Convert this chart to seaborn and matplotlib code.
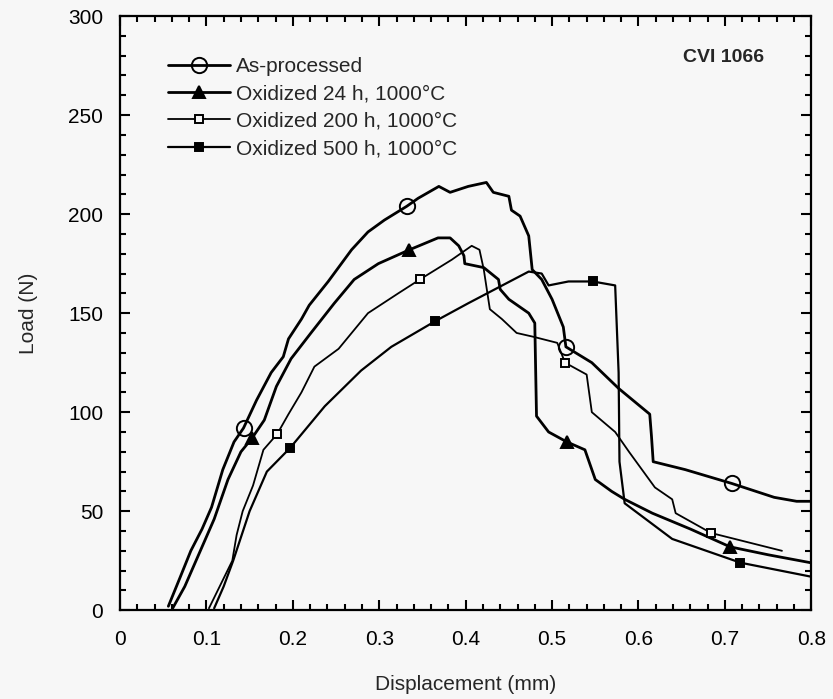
import numpy as np
import pandas as pd
import seaborn as sns
import matplotlib.pyplot as plt
from matplotlib.ticker import MultipleLocator, FuncFormatter

# --- valeurs (déplacement en mm, charge en N) ---
ap_x = [0.056, 0.070, 0.082, 0.095, 0.106, 0.119, 0.132, 0.143, 0.158, 0.175, 0.189, 0.195,
        0.210, 0.219, 0.241, 0.268, 0.287, 0.306, 0.332, 0.345, 0.369, 0.382, 0.403, 0.424,
        0.432, 0.450, 0.453, 0.463, 0.473, 0.477, 0.488, 0.500, 0.513, 0.516, 0.546, 0.577,
        0.613, 0.615, 0.617, 0.654, 0.708, 0.757, 0.783, 0.801]
ap_y = [2, 17, 30, 41, 52, 71, 85, 92, 106, 120, 128, 137,
        147, 154, 166, 182, 191, 197, 204, 208, 214, 211, 214, 216,
        211, 209, 202, 199, 189, 172, 167, 157, 143, 133, 125, 112,
        99, 88, 75, 71, 64, 57, 55, 55]
ap_marks = [0.143, 0.332, 0.516, 0.708]

h24_x = [0.061, 0.075, 0.086, 0.098, 0.109, 0.125, 0.140, 0.153, 0.167, 0.181, 0.198, 0.221,
         0.248, 0.271, 0.299, 0.335, 0.368, 0.382, 0.392, 0.398, 0.399, 0.421, 0.438, 0.440,
         0.450, 0.473, 0.480, 0.482, 0.496, 0.517, 0.538, 0.550, 0.569, 0.584, 0.616, 0.660,
         0.706, 0.750, 0.799]
h24_y = [1, 12, 23, 35, 46, 66, 80, 87, 96, 113, 127, 140,
         155, 167, 175, 182, 188, 188, 184, 179, 175, 173, 167, 162,
         157, 150, 145, 98, 90, 85, 81, 66, 60, 56, 49, 41,
         32, 28, 24]
h24_marks = [0.153, 0.335, 0.517, 0.706]

h200_x = [0.103, 0.112, 0.130, 0.135, 0.142, 0.154, 0.166, 0.182, 0.195, 0.210, 0.225, 0.253,
          0.287, 0.322, 0.347, 0.384, 0.407, 0.416, 0.421, 0.428, 0.442, 0.459, 0.479, 0.506,
          0.515, 0.540, 0.546, 0.573, 0.589, 0.619, 0.639, 0.643, 0.684, 0.766]
h200_y = [1, 9, 25, 38, 50, 63, 81, 89, 99, 110, 123, 132,
          150, 160, 167, 177, 184, 182, 172, 152, 147, 140, 138, 135,
          125, 119, 100, 90, 80, 62, 56, 49, 39, 30]
h200_marks = [0.182, 0.347, 0.515, 0.684]

h500_x = [0.109, 0.120, 0.131, 0.150, 0.170, 0.197, 0.237, 0.279, 0.314, 0.365, 0.403, 0.438,
          0.473, 0.488, 0.496, 0.519, 0.547, 0.573, 0.577, 0.578, 0.584, 0.639, 0.718, 0.799]
h500_y = [1, 12, 25, 50, 70, 82, 103, 121, 133, 146, 155, 163,
          171, 170, 164, 166, 166, 164, 120, 75, 54, 36, 24, 17]
h500_marks = [0.197, 0.365, 0.547, 0.718]

labels = ['As-processed', 'Oxidized 24 h, 1000°C', 'Oxidized 200 h, 1000°C', 'Oxidized 500 h, 1000°C']

# %%
sns.set_style("ticks")
plt.rcParams['font.family'] = ['Liberation Sans', 'DejaVu Sans']
bg = '#f7f7f7'

fig = plt.figure(figsize=(8.33, 6.99), dpi=100, facecolor=bg)
ax = fig.add_axes([0.144, 0.127, 0.830, 0.850])
ax.set_facecolor(bg)

# style : (x, y, marques, marqueur, remplissage, taille, épaisseur)
series = [
    (ap_x, ap_y, ap_marks, 'o', 'none', 11, 2.0),
    (h24_x, h24_y, h24_marks, '^', 'black', 9, 2.0),
    (h200_x, h200_y, h200_marks, 's', bg, 5.5, 1.3),
    (h500_x, h500_y, h500_marks, 's', 'black', 5.5, 1.6),
]

for (x, y, marks, mk, mfc, ms, lw), lab in zip(series, labels):
    idx = [x.index(m) for m in marks]
    df = pd.DataFrame({'disp': x, 'load': y})
    sns.lineplot(data=df, x='disp', y='load', sort=False, estimator=None, ax=ax,
                 color='black', linewidth=lw, marker=mk, markevery=idx,
                 markersize=ms, markerfacecolor=mfc, markeredgecolor='black',
                 markeredgewidth=1.4, label=lab)

ax.set_xlim(0, 0.8)
ax.set_ylim(0, 300)
ax.xaxis.set_major_locator(MultipleLocator(0.1))
ax.xaxis.set_minor_locator(MultipleLocator(0.02))
ax.yaxis.set_major_locator(MultipleLocator(50))
ax.yaxis.set_minor_locator(MultipleLocator(10))
ax.xaxis.set_major_formatter(FuncFormatter(lambda v, p: '0' if abs(v) < 1e-9 else f'{v:.1f}'))
ax.tick_params(which='both', direction='in', top=True, right=True, width=1.5, colors='black')
ax.tick_params(which='major', length=7, labelsize=15)
ax.tick_params(which='minor', length=4)
ax.tick_params(axis='x', pad=14)
ax.tick_params(axis='y', pad=12)
for s in ax.spines.values():
    s.set_linewidth(1.6)
    s.set_color('black')

ax.set_xlabel('Displacement (mm)', fontsize=15, labelpad=19)
ax.set_ylabel('Load (N)', fontsize=15, labelpad=22)

ax.text(0.873, 0.930, 'CVI 1066', transform=ax.transAxes, ha='center', va='center',
        fontsize=14, fontweight='bold')

ax.legend(loc='upper left', bbox_to_anchor=(0.069, 0.931), frameon=False, fontsize=15,
          handlelength=3.0, handletextpad=0.3, labelspacing=0.4, borderaxespad=0, borderpad=0)

fig.savefig('out.png', dpi=100, facecolor=bg)
